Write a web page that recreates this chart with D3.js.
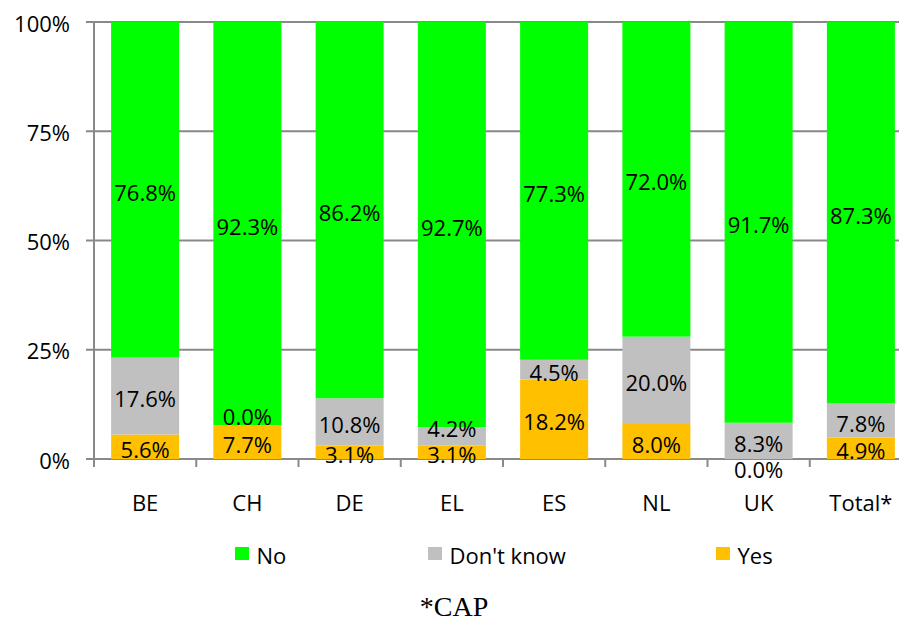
<!DOCTYPE html>
<html>
<head>
<meta charset="utf-8">
<script src="https://cdn.jsdelivr.net/npm/d3@7"></script>
<style>
  html, body { margin: 0; padding: 0; background: #fff; }
  svg { display: block; }
  text { font-family: "Open Sans", "Noto Sans", sans-serif; fill: #000; }
</style>
</head>
<body>
<svg id="chart" width="899" height="618"></svg>
<script>
// Countries surveyed (plus pooled total)
const categories = ["BE", "CH", "DE", "EL", "ES", "NL", "UK", "Total*"];
// Share of answers, in percent, stacked bottom-up: Yes, Don't know, No
const yesValues      = [5.6, 7.7, 3.1, 3.1, 18.2, 8.0, 0.0, 4.9];
const dontKnowValues = [17.6, 0.0, 10.8, 4.2, 4.5, 20.0, 8.3, 7.8];
const noValues       = [76.8, 92.3, 86.2, 92.7, 77.3, 72.0, 91.7, 87.3];
const yTicks = [0, 25, 50, 75, 100];

const seriesDefs = [
  { key: "Yes", values: yesValues, color: "#FFC000" },
  { key: "Don't know", values: dontKnowValues, color: "#C0C0C0" },
  { key: "No", values: noValues, color: "#00FF00" }
];
const legendOrder = ["No", "Don't know", "Yes"];

const svg = d3.select("#chart");
const plotLeft = 94, plotRight = 912, plotTop = 22, plotBottom = 459;
const fontSize = 22;

const x = d3.scaleBand().domain(categories).range([plotLeft, plotRight]).paddingInner(0.335).paddingOuter(0.1675);
const y = d3.scaleLinear().domain([0, 100]).range([plotBottom, plotTop]);
const gridColor = "#898989";

// Horizontal gridlines (with outer tick stubs)
svg.append("g").selectAll("line").data(yTicks).join("line")
  .attr("x1", plotLeft - 8).attr("x2", 899)
  .attr("y1", d => y(d)).attr("y2", d => y(d))
  .attr("stroke", gridColor).attr("stroke-width", 2);

// Y tick labels
svg.append("g").selectAll("text").data(yTicks).join("text")
  .attr("x", 70).attr("y", d => y(d) + 9.5)
  .attr("text-anchor", "end").attr("font-size", fontSize)
  .text(d => d + "%");

// Vertical axis line
svg.append("line").attr("x1", plotLeft).attr("x2", plotLeft)
  .attr("y1", plotTop).attr("y2", plotBottom + 1)
  .attr("stroke", gridColor).attr("stroke-width", 2);

// Category boundary ticks on the x axis
const step = x.step();
const boundaries = d3.range(categories.length + 1).map(i => plotLeft + i * step);
svg.append("g").selectAll("line").data(boundaries).join("line")
  .attr("x1", d => d).attr("x2", d => d)
  .attr("y1", plotBottom).attr("y2", plotBottom + 8)
  .attr("stroke", gridColor).attr("stroke-width", 2);

// Stack the series
const rows = categories.map((c, i) => {
  const r = { cat: c };
  seriesDefs.forEach(s => r[s.key] = s.values[i]);
  return r;
});
const stack = d3.stack().keys(seriesDefs.map(s => s.key));
const stacked = stack(rows);

const barG = svg.append("g");
stacked.forEach((layer, li) => {
  barG.append("g").selectAll("rect").data(layer).join("rect")
    .attr("x", d => x(d.data.cat))
    .attr("width", x.bandwidth())
    .attr("y", d => y(d[1]))
    .attr("height", d => y(d[0]) - y(d[1]))
    .attr("fill", seriesDefs[li].color);
});

// Value label baselines: centred in each segment, empty segments beside their edge,
// and a label pushed up when it would collide with the one beneath it
const minGap = 26;
const labelY = stacked.map(() => []);
categories.forEach((c, ci) => {
  let prev = null;
  stacked.forEach((layer, li) => {
    const d = layer[ci];
    const v = d[1] - d[0];
    const mid = (y(d[0]) + y(d[1])) / 2;
    let by = v === 0 ? (d[0] === 0 ? mid + 19 : mid) : mid + 11;
    if (prev !== null && by < prev + 0 && by > prev - minGap) by = prev - minGap;
    labelY[li][ci] = by;
    prev = by;
  });
});

const labelG = svg.append("g");
stacked.forEach((layer, li) => {
  labelG.append("g").selectAll("text").data(layer).join("text")
    .attr("x", d => x(d.data.cat) + x.bandwidth() / 2)
    .attr("y", (d, i) => labelY[li][i])
    .attr("text-anchor", "middle").attr("font-size", fontSize)
    .text(d => (d.data[layer.key]).toFixed(1) + "%");
});

// Category labels
svg.append("g").selectAll("text").data(categories).join("text")
  .attr("x", d => x(d) + x.bandwidth() / 2).attr("y", 511)
  .attr("text-anchor", "middle").attr("font-size", fontSize)
  .text(d => d);

// Legend
const legendX = { "No": 235, "Don't know": 428, "Yes": 716 };
const legend = svg.append("g").selectAll("g").data(legendOrder).join("g")
  .attr("transform", d => `translate(${legendX[d]},547)`);
legend.append("rect").attr("width", 14).attr("height", 13)
  .attr("fill", d => seriesDefs.find(s => s.key === d).color);
legend.append("text").attr("x", 21.5).attr("y", 16.5).attr("font-size", fontSize).text(d => d);

// Footnote
svg.append("text").attr("x", 454).attr("y", 616).attr("text-anchor", "middle")
  .attr("font-size", 28).style("font-family", "'Liberation Serif', 'Times New Roman', serif")
  .text("*CAP");
</script>
</body>
</html>
